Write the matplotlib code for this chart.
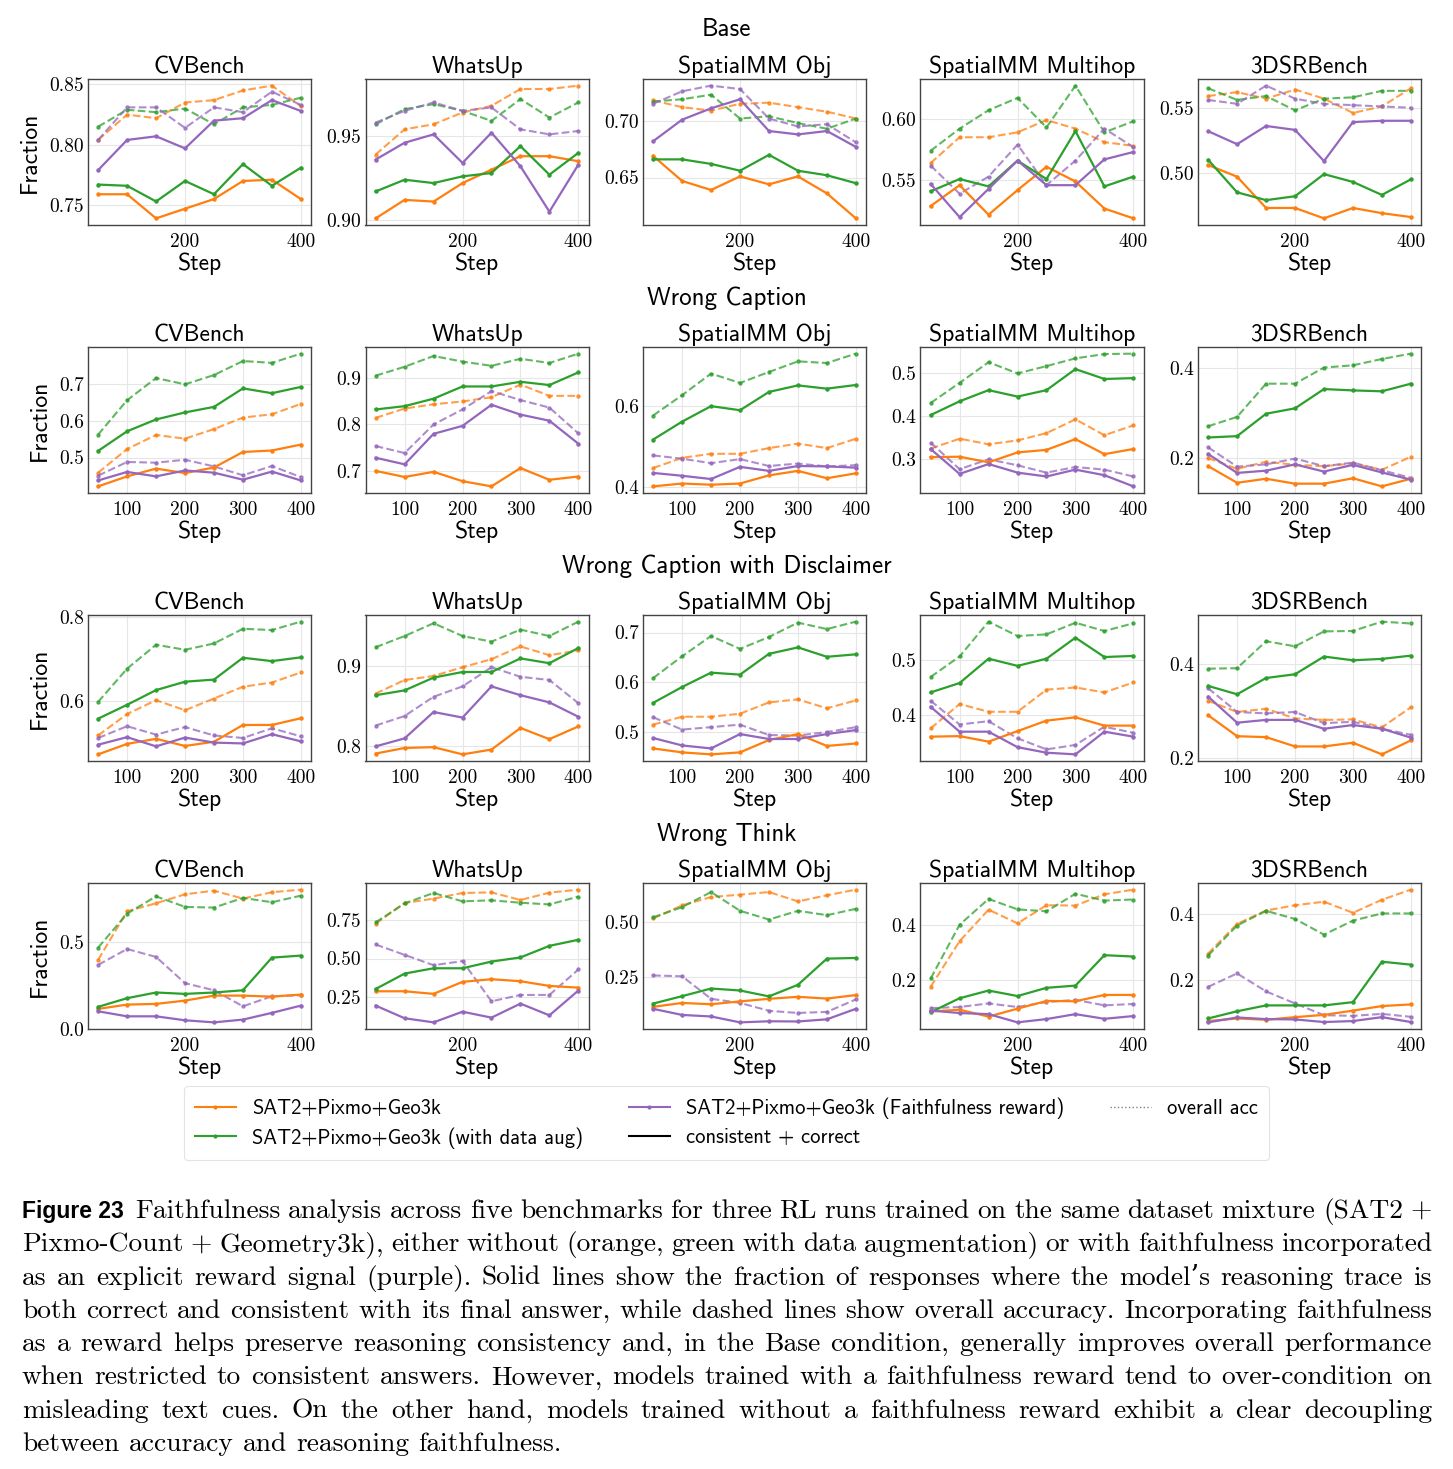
import matplotlib
matplotlib.use("Agg")
import matplotlib.pyplot as plt
from matplotlib.lines import Line2D
from matplotlib.ticker import FixedLocator, FixedFormatter

plt.rcParams['axes.formatter.use_mathtext'] = True

# ---------------- data ----------------
STEPS = [50, 100, 150, 200, 250, 300, 350, 400]
BENCHMARKS = ["CVBench", "WhatsUp", "SpatialMM Obj", "SpatialMM Multihop", "3DSRBench"]
CONDITIONS = ["Base", "Wrong Caption", "Wrong Caption with Disclaimer", "Wrong Think"]
RUN_LABELS = ["SAT2+Pixmo+Geo3k", "SAT2+Pixmo+Geo3k (with data aug)",
              "SAT2+Pixmo+Geo3k (Faithfulness reward)"]
RUN_COLORS = ["#ff7f0e", "#2ca02c", "#9467bd"]

# Base  (rows = benchmarks in BENCHMARKS order)
base_orange_cc = [[0.759, 0.759, 0.739, 0.747, 0.755, 0.770, 0.771, 0.755],
                  [0.901, 0.912, 0.911, 0.922, 0.930, 0.938, 0.938, 0.935],
                  [0.669, 0.647, 0.639, 0.651, 0.644, 0.651, 0.636, 0.614],
                  [0.529, 0.546, 0.522, 0.542, 0.561, 0.549, 0.527, 0.519],
                  [0.506, 0.497, 0.473, 0.473, 0.465, 0.473, 0.469, 0.466]]
base_orange_acc = [[0.804, 0.825, 0.822, 0.835, 0.837, 0.845, 0.849, 0.832],
                   [0.939, 0.954, 0.957, 0.964, 0.968, 0.978, 0.978, 0.980],
                   [0.718, 0.712, 0.709, 0.715, 0.716, 0.712, 0.708, 0.702],
                   [0.564, 0.585, 0.585, 0.589, 0.599, 0.592, 0.581, 0.578],
                   [0.559, 0.562, 0.557, 0.564, 0.557, 0.546, 0.551, 0.565]]
base_green_cc = [[0.767, 0.766, 0.753, 0.770, 0.759, 0.784, 0.766, 0.781],
                 [0.917, 0.924, 0.922, 0.926, 0.928, 0.944, 0.927, 0.940],
                 [0.666, 0.666, 0.662, 0.656, 0.670, 0.656, 0.652, 0.645],
                 [0.541, 0.551, 0.545, 0.566, 0.551, 0.590, 0.545, 0.553],
                 [0.510, 0.485, 0.479, 0.482, 0.499, 0.493, 0.483, 0.495]]
base_green_acc = [[0.815, 0.829, 0.827, 0.830, 0.817, 0.831, 0.833, 0.839],
                  [0.957, 0.966, 0.969, 0.965, 0.959, 0.972, 0.961, 0.970],
                  [0.717, 0.719, 0.723, 0.702, 0.704, 0.698, 0.693, 0.702],
                  [0.574, 0.592, 0.607, 0.617, 0.593, 0.627, 0.589, 0.598],
                  [0.565, 0.556, 0.559, 0.548, 0.557, 0.558, 0.563, 0.563]]
base_purple_cc = [[0.779, 0.804, 0.807, 0.797, 0.820, 0.822, 0.837, 0.828],
                  [0.936, 0.946, 0.951, 0.934, 0.952, 0.932, 0.905, 0.933],
                  [0.682, 0.701, 0.711, 0.719, 0.691, 0.688, 0.691, 0.677],
                  [0.547, 0.520, 0.543, 0.566, 0.546, 0.546, 0.567, 0.573],
                  [0.532, 0.522, 0.536, 0.533, 0.509, 0.539, 0.540, 0.540]]
base_purple_acc = [[0.804, 0.831, 0.831, 0.814, 0.831, 0.827, 0.844, 0.833],
                   [0.958, 0.965, 0.970, 0.965, 0.967, 0.954, 0.951, 0.953],
                   [0.715, 0.726, 0.731, 0.728, 0.702, 0.695, 0.697, 0.681],
                   [0.562, 0.539, 0.553, 0.579, 0.546, 0.566, 0.592, 0.577],
                   [0.556, 0.553, 0.567, 0.557, 0.553, 0.552, 0.551, 0.550]]

# Wrong Caption
wc_orange_cc = [[0.422, 0.449, 0.470, 0.458, 0.473, 0.515, 0.519, 0.535],
                [0.701, 0.688, 0.699, 0.679, 0.668, 0.707, 0.682, 0.689],
                [0.402, 0.409, 0.406, 0.409, 0.429, 0.440, 0.422, 0.434],
                [0.304, 0.305, 0.292, 0.315, 0.321, 0.346, 0.311, 0.323],
                [0.181, 0.144, 0.153, 0.142, 0.142, 0.154, 0.136, 0.153]]
wc_orange_acc = [[0.459, 0.523, 0.561, 0.551, 0.577, 0.608, 0.617, 0.645],
                 [0.814, 0.834, 0.843, 0.849, 0.858, 0.885, 0.861, 0.861],
                 [0.447, 0.472, 0.482, 0.482, 0.496, 0.507, 0.496, 0.519],
                 [0.324, 0.347, 0.334, 0.343, 0.360, 0.392, 0.355, 0.378],
                 [0.199, 0.175, 0.191, 0.184, 0.181, 0.187, 0.173, 0.202]]
wc_green_cc = [[0.518, 0.571, 0.603, 0.622, 0.637, 0.687, 0.674, 0.691],
               [0.832, 0.839, 0.855, 0.881, 0.881, 0.891, 0.884, 0.911],
               [0.517, 0.561, 0.599, 0.589, 0.634, 0.650, 0.642, 0.651],
               [0.402, 0.434, 0.460, 0.445, 0.460, 0.509, 0.486, 0.488],
               [0.245, 0.248, 0.298, 0.310, 0.353, 0.350, 0.348, 0.365]]
wc_green_acc = [[0.562, 0.655, 0.715, 0.698, 0.723, 0.761, 0.756, 0.781],
                [0.904, 0.923, 0.946, 0.934, 0.925, 0.940, 0.931, 0.951],
                [0.576, 0.626, 0.679, 0.656, 0.683, 0.709, 0.705, 0.728],
                [0.430, 0.477, 0.525, 0.499, 0.516, 0.534, 0.544, 0.545],
                [0.270, 0.291, 0.365, 0.365, 0.401, 0.406, 0.420, 0.432]]
wc_purple_cc = [[0.438, 0.461, 0.449, 0.465, 0.459, 0.440, 0.462, 0.438],
                [0.729, 0.715, 0.780, 0.797, 0.842, 0.821, 0.808, 0.759],
                [0.435, 0.428, 0.420, 0.450, 0.440, 0.452, 0.451, 0.448],
                [0.323, 0.265, 0.288, 0.268, 0.259, 0.275, 0.262, 0.236],
                [0.208, 0.166, 0.171, 0.185, 0.169, 0.184, 0.167, 0.151]]
wc_purple_acc = [[0.451, 0.488, 0.486, 0.494, 0.476, 0.452, 0.477, 0.447],
                 [0.754, 0.739, 0.800, 0.832, 0.871, 0.852, 0.836, 0.781],
                 [0.478, 0.470, 0.459, 0.469, 0.452, 0.458, 0.451, 0.454],
                 [0.338, 0.276, 0.299, 0.285, 0.268, 0.281, 0.275, 0.259],
                 [0.223, 0.180, 0.185, 0.198, 0.181, 0.189, 0.172, 0.155]]

# Wrong Caption with Disclaimer
wcd_orange_cc = [[0.473, 0.498, 0.510, 0.493, 0.503, 0.543, 0.543, 0.559],
                 [0.790, 0.797, 0.798, 0.789, 0.795, 0.822, 0.808, 0.824],
                 [0.466, 0.458, 0.454, 0.458, 0.483, 0.495, 0.471, 0.476],
                 [0.361, 0.362, 0.352, 0.371, 0.390, 0.396, 0.381, 0.381],
                 [0.291, 0.246, 0.244, 0.224, 0.224, 0.232, 0.207, 0.237]]
wcd_orange_acc = [[0.518, 0.569, 0.602, 0.578, 0.606, 0.634, 0.644, 0.668],
                  [0.865, 0.882, 0.887, 0.898, 0.908, 0.924, 0.913, 0.919],
                  [0.514, 0.530, 0.530, 0.536, 0.559, 0.565, 0.547, 0.563],
                  [0.376, 0.420, 0.406, 0.406, 0.446, 0.450, 0.441, 0.459],
                  [0.322, 0.298, 0.305, 0.284, 0.281, 0.282, 0.265, 0.308]]
wcd_green_cc = [[0.558, 0.591, 0.626, 0.646, 0.651, 0.703, 0.695, 0.704],
                [0.863, 0.869, 0.885, 0.892, 0.892, 0.909, 0.903, 0.922],
                [0.558, 0.590, 0.619, 0.615, 0.657, 0.670, 0.651, 0.656],
                [0.441, 0.458, 0.502, 0.489, 0.502, 0.540, 0.505, 0.507],
                [0.354, 0.336, 0.371, 0.379, 0.417, 0.409, 0.412, 0.419]]
wcd_green_acc = [[0.598, 0.677, 0.734, 0.722, 0.737, 0.772, 0.769, 0.789],
                 [0.923, 0.937, 0.953, 0.937, 0.930, 0.945, 0.937, 0.955],
                 [0.608, 0.652, 0.693, 0.667, 0.691, 0.720, 0.707, 0.722],
                 [0.469, 0.506, 0.569, 0.543, 0.546, 0.567, 0.552, 0.566],
                 [0.391, 0.392, 0.450, 0.439, 0.471, 0.472, 0.492, 0.488]]
wcd_purple_cc = [[0.496, 0.514, 0.492, 0.513, 0.501, 0.499, 0.521, 0.504],
                 [0.799, 0.809, 0.842, 0.835, 0.874, 0.863, 0.854, 0.836],
                 [0.487, 0.472, 0.466, 0.495, 0.485, 0.485, 0.495, 0.503],
                 [0.415, 0.370, 0.370, 0.342, 0.332, 0.329, 0.370, 0.361],
                 [0.331, 0.275, 0.281, 0.281, 0.262, 0.270, 0.262, 0.243]]
wcd_purple_acc = [[0.512, 0.540, 0.520, 0.538, 0.518, 0.512, 0.535, 0.516],
                  [0.825, 0.837, 0.861, 0.874, 0.898, 0.886, 0.882, 0.853],
                  [0.529, 0.504, 0.509, 0.514, 0.493, 0.492, 0.499, 0.509],
                  [0.426, 0.383, 0.389, 0.358, 0.338, 0.346, 0.379, 0.368],
                  [0.349, 0.298, 0.295, 0.298, 0.274, 0.277, 0.262, 0.249]]

# Wrong Think
wt_orange_cc = [[0.114, 0.139, 0.143, 0.162, 0.191, 0.191, 0.185, 0.197],
                [0.285, 0.285, 0.268, 0.347, 0.364, 0.351, 0.320, 0.309],
                [0.112, 0.130, 0.124, 0.137, 0.149, 0.158, 0.150, 0.166],
                [0.084, 0.090, 0.065, 0.094, 0.122, 0.121, 0.144, 0.144],
                [0.073, 0.081, 0.077, 0.085, 0.092, 0.105, 0.119, 0.124]]
wt_orange_acc = [[0.398, 0.680, 0.726, 0.778, 0.799, 0.753, 0.790, 0.805],
                 [0.728, 0.864, 0.893, 0.930, 0.934, 0.884, 0.932, 0.952],
                 [0.517, 0.577, 0.615, 0.626, 0.638, 0.595, 0.623, 0.649],
                 [0.174, 0.340, 0.455, 0.405, 0.471, 0.470, 0.511, 0.528],
                 [0.280, 0.371, 0.412, 0.428, 0.439, 0.405, 0.445, 0.476]]
wt_green_cc = [[0.126, 0.176, 0.209, 0.201, 0.209, 0.222, 0.411, 0.423],
               [0.300, 0.401, 0.436, 0.436, 0.480, 0.507, 0.583, 0.623],
               [0.127, 0.161, 0.196, 0.187, 0.160, 0.213, 0.333, 0.336],
               [0.081, 0.132, 0.160, 0.140, 0.170, 0.178, 0.289, 0.284],
               [0.081, 0.103, 0.121, 0.121, 0.121, 0.131, 0.255, 0.246]]
wt_green_acc = [[0.469, 0.666, 0.766, 0.705, 0.701, 0.757, 0.732, 0.770],
                [0.737, 0.862, 0.930, 0.875, 0.882, 0.866, 0.855, 0.906],
                [0.522, 0.569, 0.638, 0.552, 0.512, 0.552, 0.532, 0.561],
                [0.204, 0.400, 0.494, 0.456, 0.449, 0.513, 0.488, 0.492],
                [0.274, 0.366, 0.411, 0.386, 0.338, 0.381, 0.403, 0.403]]
wt_purple_cc = [[0.100, 0.071, 0.071, 0.048, 0.036, 0.052, 0.091, 0.133],
                [0.191, 0.108, 0.081, 0.151, 0.112, 0.204, 0.127, 0.290],
                [0.103, 0.075, 0.068, 0.041, 0.046, 0.045, 0.055, 0.103],
                [0.087, 0.078, 0.074, 0.044, 0.056, 0.074, 0.057, 0.067],
                [0.069, 0.084, 0.079, 0.078, 0.070, 0.073, 0.085, 0.070]]
wt_purple_acc = [[0.369, 0.461, 0.415, 0.263, 0.222, 0.129, 0.187, 0.193],
                 [0.592, 0.524, 0.456, 0.483, 0.219, 0.261, 0.261, 0.428],
                 [0.256, 0.252, 0.149, 0.130, 0.094, 0.084, 0.089, 0.146],
                 [0.096, 0.100, 0.113, 0.100, 0.118, 0.126, 0.106, 0.111],
                 [0.178, 0.219, 0.164, 0.127, 0.091, 0.089, 0.095, 0.086]]

# tick labels per panel
base_yticklabels = [["0.75", "0.80", "0.85"], ["0.90", "0.95"], ["0.65", "0.70"],
                    ["0.55", "0.60"], ["0.50", "0.55"]]
wc_yticklabels = [["0.5", "0.6", "0.7"], ["0.7", "0.8", "0.9"], ["0.4", "0.6"],
                  ["0.3", "0.4", "0.5"], ["0.2", "0.4"]]
wcd_yticklabels = [["0.6", "0.8"], ["0.8", "0.9"], ["0.5", "0.6", "0.7"],
                   ["0.4", "0.5"], ["0.2", "0.4"]]
wt_yticklabels = [["0.0", "0.5"], ["0.25", "0.50", "0.75"], ["0.25", "0.50"],
                  ["0.2", "0.4"], ["0.2", "0.4"]]
base_xticks = [200, 400]
wc_xticks = [100, 200, 300, 400]
wcd_xticks = [100, 200, 300, 400]
wt_xticks = [200, 400]

CAPTION_HEAD = "Figure 23"
CAPTION_LINES = [
    "Faithfulness analysis across five benchmarks for three RL runs trained on the same dataset mixture (SAT2 +",
    "Pixmo-Count + Geometry3k), either without (orange, green with data augmentation) or with faithfulness incorporated",
    "as an explicit reward signal (purple). Solid lines show the fraction of responses where the model\u2019s reasoning trace is",
    "both correct and consistent with its final answer, while dashed lines show overall accuracy. Incorporating faithfulness",
    "as a reward helps preserve reasoning consistency and, in the Base condition, generally improves overall performance",
    "when restricted to consistent answers. However, models trained with a faithfulness reward tend to over-condition on",
    "misleading text cues. On the other hand, models trained without a faithfulness reward exhibit a clear decoupling",
    "between accuracy and reasoning faithfulness.",
]

# ---------------- figure ----------------
W, H = 1453, 1469
fig = plt.figure(figsize=(W / 100, H / 100), dpi=100)

SANS = ['cmss10', 'DejaVu Sans']
SERIF = ['cmr10', 'DejaVu Serif']

rows = [
    (base_orange_cc, base_orange_acc, base_green_cc, base_green_acc, base_purple_cc, base_purple_acc,
     base_yticklabels, base_xticks),
    (wc_orange_cc, wc_orange_acc, wc_green_cc, wc_green_acc, wc_purple_cc, wc_purple_acc,
     wc_yticklabels, wc_xticks),
    (wcd_orange_cc, wcd_orange_acc, wcd_green_cc, wcd_green_acc, wcd_purple_cc, wcd_purple_acc,
     wcd_yticklabels, wcd_xticks),
    (wt_orange_cc, wt_orange_acc, wt_green_cc, wt_green_acc, wt_purple_cc, wt_purple_acc,
     wt_yticklabels, wt_xticks),
]

ax_left0, ax_pitch, ax_w = 88, 277.5, 223
ax_top0, row_pitch, ax_h = 79, 268, 146

for r, (o_cc, o_acc, g_cc, g_acc, p_cc, p_acc, ylabs, xt) in enumerate(rows):
    top = ax_top0 + r * row_pitch
    fig.text(0.5, 1 - (top - 49) / H, CONDITIONS[r], ha='center', va='center',
             fontsize=18, family=SANS)
    for c in range(5):
        left = ax_left0 + c * ax_pitch
        ax = fig.add_axes([left / W, 1 - (top + ax_h) / H, ax_w / W, ax_h / H])
        series = [(o_cc, o_acc), (g_cc, g_acc), (p_cc, p_acc)]
        for k, (cc, acc) in enumerate(series):
            ax.plot(STEPS, acc[c], color=RUN_COLORS[k], ls='--', lw=1.5, alpha=0.75,
                    marker='o', ms=2.2, zorder=2)
            ax.plot(STEPS, cc[c], color=RUN_COLORS[k], ls='-', lw=1.6,
                    marker='o', ms=2.2, zorder=3)
        yt = [float(s) for s in ylabs[c]]
        ax.yaxis.set_major_locator(FixedLocator(yt))
        ax.yaxis.set_major_formatter(FixedFormatter(ylabs[c]))
        ax.set_xticks(xt)
        ax.set_xticklabels([str(v) for v in xt])
        ax.grid(True, color='#e6e6e6', lw=0.8, zorder=0)
        ax.set_axisbelow(True)
        for sp in ax.spines.values():
            sp.set_color('#444444')
            sp.set_linewidth(1.0)
        ax.tick_params(axis='both', length=0, labelsize=14)
        ax.tick_params(axis='x', pad=6)
        ax.tick_params(axis='y', pad=3)
        for lab in ax.get_xticklabels() + ax.get_yticklabels():
            lab.set_family(SERIF)
        ax.set_title(BENCHMARKS[c], fontsize=17, family=SANS, pad=4)
        ax.set_xlabel("Step", fontsize=17, family=SANS, labelpad=1)
        if c == 0:
            ax.set_ylabel("Fraction", fontsize=17, family=SANS, labelpad=6)

# legend
handles = [Line2D([], [], color=RUN_COLORS[0], lw=1.5, marker='o', ms=2),
           Line2D([], [], color=RUN_COLORS[1], lw=1.5, marker='o', ms=2),
           Line2D([], [], color=RUN_COLORS[2], lw=1.5, marker='o', ms=2),
           Line2D([], [], color='black', lw=1.5),
           Line2D([], [], color='gray', lw=1.0, ls=':')]
labels = [RUN_LABELS[0], RUN_LABELS[1], RUN_LABELS[2], "consistent + correct", "overall acc"]
leg = fig.legend(handles, labels, loc='center', bbox_to_anchor=(0.5, 1 - 1123 / H),
                 ncol=3, frameon=True, fancybox=True, columnspacing=2.2,
                 prop={'family': SANS, 'size': 14.8}, borderpad=0.55, labelspacing=0.45)
leg.get_frame().set_edgecolor('#dddddd')
leg.get_frame().set_linewidth(0.8)

# caption (justified)
renderer = fig.canvas.get_renderer()
CAP_SIZE = 19.8
x0, x1 = 22, 1432
base0, line_gap = 1218, 33.3

def place_words(words, xs, xe, y, justify):
    texts = []
    widths = []
    for w in words:
        t = fig.text(0, 1 - y / H, w, fontsize=CAP_SIZE, family=SERIF, va='baseline', ha='left')
        texts.append(t)
        widths.append(t.get_window_extent(renderer).width)
    if justify and len(words) > 1:
        gap = (xe - xs - sum(widths)) / (len(words) - 1)
    else:
        gap = CAP_SIZE * 100 / 72 * 0.333
    x = xs
    for t, wdt in zip(texts, widths):
        t.set_x(x / W)
        x += wdt + gap

head = fig.text(x0 / W, 1 - base0 / H, CAPTION_HEAD, fontsize=16.5, family=['Liberation Sans', 'DejaVu Sans'],
                weight='bold', va='baseline', ha='left')
head_w = head.get_window_extent(renderer).width
for i, line in enumerate(CAPTION_LINES):
    y = base0 + i * line_gap
    xs = x0 + head_w + 11 if i == 0 else x0
    place_words(line.split(), xs, x1, y, justify=(i < len(CAPTION_LINES) - 1))

fig.savefig("out.png", dpi=100)
